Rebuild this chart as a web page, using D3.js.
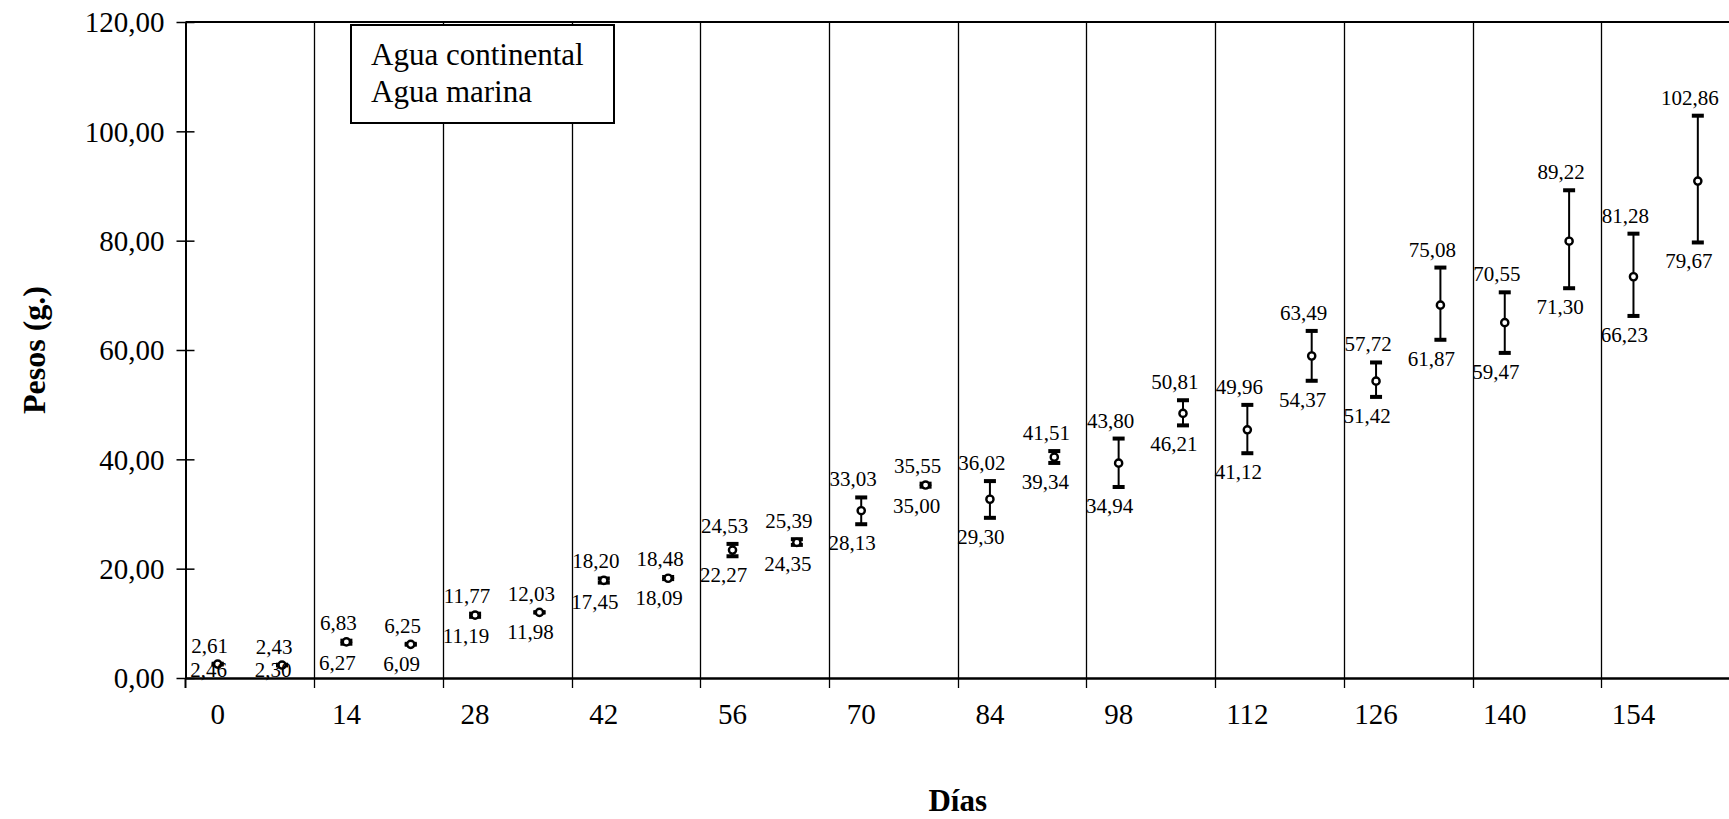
<!DOCTYPE html>
<html>
<head>
<meta charset="utf-8">
<script src="https://cdn.jsdelivr.net/npm/d3@7/dist/d3.min.js"></script>
<style>
  html, body { margin: 0; padding: 0; background: #fff; }
  svg { display: block; }
  text { font-family: "Liberation Serif", "Times New Roman", serif; fill: #000; }
</style>
</head>
<body>
<svg id="chart" width="1729" height="819"></svg>
<script>
// Sampling days (one pair of points per day)
const days = [0, 14, 28, 42, 56, 70, 84, 98, 112, 126, 140, 154];

// Agua continental: mean, maximum and minimum weight (g)
const contMean = [2.54, 6.60, 11.50, 17.85, 23.40, 30.60, 32.70, 39.30, 45.40, 54.30, 65.00, 73.40];
const contMax  = [2.61, 6.83, 11.77, 18.20, 24.53, 33.03, 36.02, 43.80, 49.96, 57.72, 70.55, 81.28];
const contMin  = [2.46, 6.27, 11.19, 17.45, 22.27, 28.13, 29.30, 34.94, 41.12, 51.42, 59.47, 66.23];

// Agua marina: mean, maximum and minimum weight (g)
const marMean = [2.37, 6.16, 12.00, 18.25, 24.80, 35.30, 40.40, 48.40, 58.90, 68.20, 79.90, 90.90];
const marMax  = [2.43, 6.25, 12.03, 18.48, 25.39, 35.55, 41.51, 50.81, 63.49, 75.08, 89.22, 102.86];
const marMin  = [2.30, 6.09, 11.98, 18.09, 24.35, 35.00, 39.34, 46.21, 54.37, 61.87, 71.30, 79.67];

// Y axis ticks
const yTicks = [0, 20, 40, 60, 80, 100, 120];

const seriesNames = ["Agua continental", "Agua marina"];

// Build one category per (day, series), continental first
const points = [];
days.forEach((d, i) => {
  points.push({ key: d + "-c", day: d, first: true,  mean: contMean[i], max: contMax[i], min: contMin[i] });
  points.push({ key: d + "-m", day: d, first: false, mean: marMean[i],  max: marMax[i],  min: marMin[i] });
});

const locale = d3.formatLocale({ decimal: ",", thousands: ".", grouping: [3], currency: ["", ""] });
const fmt = locale.format(".2f");

const svg = d3.select("#chart");
const plot = { left: 185.5, right: 1730, top: 22, bottom: 678 };

const x = d3.scaleBand()
  .domain(points.map(p => p.key))
  .range([plot.left, plot.right])
  .paddingInner(0).paddingOuter(0);
const cx = k => x(k) + x.bandwidth() / 2;

const y = d3.scaleLinear().domain([0, 120]).range([plot.bottom, plot.top]);

// Vertical gridlines at the start of each day (every second category)
const gridKeys = points.filter(p => p.first).map(p => p.key);
svg.append("g").selectAll("line")
  .data(gridKeys.slice(1))
  .join("line")
  .attr("x1", k => Math.round(x(k)) + 0.5).attr("x2", k => Math.round(x(k)) + 0.5)
  .attr("y1", plot.top).attr("y2", plot.bottom + 10)
  .attr("stroke", "#000").attr("stroke-width", 1.3);

// Plot frame: top border
svg.append("line")
  .attr("x1", plot.left).attr("x2", plot.right)
  .attr("y1", plot.top).attr("y2", plot.top)
  .attr("stroke", "#000").attr("stroke-width", 2);

// Y axis with crossing tick marks
const yAxis = svg.append("g").attr("transform", `translate(${plot.left},0)`)
  .call(d3.axisLeft(y).tickValues(yTicks).tickFormat(fmt).tickSize(0).tickPadding(21));
yAxis.select(".domain").attr("stroke", "#000").attr("stroke-width", 2);
yAxis.selectAll(".tick text").attr("font-size", 29).attr("font-family", "Liberation Serif").attr("dy", "0.34em");
yAxis.selectAll(".tick").append("line")
  .attr("x1", -9).attr("x2", 9).attr("stroke", "#000").attr("stroke-width", 1.5);

// X axis with tick labels on the first category of each day
const xAxis = svg.append("g").attr("transform", `translate(0,${plot.bottom})`)
  .call(d3.axisBottom(x).tickValues(gridKeys)
    .tickFormat(k => k.split("-")[0]).tickSize(0).tickPadding(25));
xAxis.select(".domain").attr("stroke", "#000").attr("stroke-width", 2.5);
xAxis.selectAll(".tick text").attr("font-size", 29).attr("font-family", "Liberation Serif").attr("dy", "0.71em");
// Tick marks hang below the axis on the first gridline
svg.append("line")
  .attr("x1", plot.left).attr("x2", plot.left)
  .attr("y1", plot.bottom).attr("y2", plot.bottom + 10)
  .attr("stroke", "#000").attr("stroke-width", 2);

// Error bars (min to max), caps and mean markers
const marks = svg.append("g");
const capW = 12;
marks.selectAll("line.bar").data(points).join("line").attr("class", "bar")
  .attr("x1", p => cx(p.key)).attr("x2", p => cx(p.key))
  .attr("y1", p => y(p.max)).attr("y2", p => y(p.min))
  .attr("stroke", "#000").attr("stroke-width", 2);
marks.selectAll("rect.capHi").data(points).join("rect").attr("class", "capHi")
  .attr("x", p => cx(p.key) - capW / 2).attr("y", p => y(p.max) - 2)
  .attr("width", capW).attr("height", 4).attr("fill", "#000");
marks.selectAll("rect.capLo").data(points).join("rect").attr("class", "capLo")
  .attr("x", p => cx(p.key) - capW / 2).attr("y", p => y(p.min) - 2)
  .attr("width", capW).attr("height", 4).attr("fill", "#000");
marks.selectAll("circle").data(points).join("circle")
  .attr("cx", p => cx(p.key)).attr("cy", p => y(p.mean)).attr("r", 3.6)
  .attr("fill", "#fff").attr("stroke", "#000").attr("stroke-width", 2.4);

// Value labels: maximum above, minimum below
const labels = svg.append("g").attr("font-size", 21).attr("text-anchor", "middle");
labels.selectAll("text.hi").data(points).join("text").attr("class", "hi")
  .attr("x", p => cx(p.key) - 8).attr("y", p => y(p.max) - 11)
  .text(p => fmt(p.max));
labels.selectAll("text.lo").data(points).join("text").attr("class", "lo")
  .attr("x", p => cx(p.key) - 9).attr("y", p => Math.min(y(p.min) + 26, plot.bottom - 1))
  .text(p => fmt(p.min));

// Legend
const legend = svg.append("g");
legend.append("rect")
  .attr("x", 351).attr("y", 25).attr("width", 263).attr("height", 98)
  .attr("fill", "#fff").attr("stroke", "#000").attr("stroke-width", 2);
legend.selectAll("text").data(seriesNames).join("text")
  .attr("x", 371).attr("y", (d, i) => 65 + i * 37)
  .attr("font-size", 31).text(d => d);

// Axis titles
svg.append("text")
  .attr("x", (plot.left + plot.right) / 2).attr("y", 811)
  .attr("text-anchor", "middle").attr("font-weight", "bold").attr("font-size", 31)
  .text("Días");
svg.append("text")
  .attr("transform", `translate(45,${(plot.top + plot.bottom) / 2}) rotate(-90)`)
  .attr("text-anchor", "middle").attr("font-weight", "bold").attr("font-size", 32)
  .text("Pesos (g.)");
</script>
</body>
</html>
